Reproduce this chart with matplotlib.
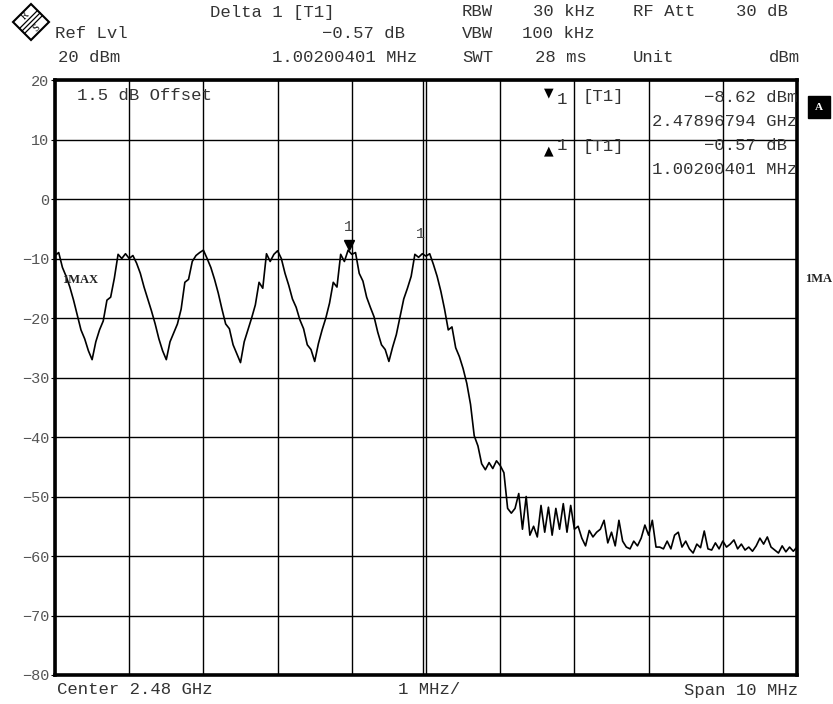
import numpy as np
import matplotlib
matplotlib.use("Agg")
import matplotlib.pyplot as plt
import matplotlib.transforms as mtransforms
from matplotlib.patches import Polygon

# Spectrum analyzer screen: center 2.48 GHz, span 10 MHz
center_ghz = 2.48
span_ghz = 0.010
ref_lvl = 20
db_per_div = 10
n_div_y = 10

# trace level (dBm), 201 points across the span
level_dbm = [
    -9.5, -9.0, -11.5, -13.0, -14.8, -17.0, -19.5, -22.0, -23.5, -25.5,
    -27.0, -24.0, -22.0, -20.5, -17.0, -16.5, -13.3, -9.3, -10.0, -9.2,
    -10.0, -9.5, -10.8, -12.5, -14.8, -16.8, -18.8, -21.0, -23.5, -25.5,
    -27.0, -24.0, -22.5, -21.0, -18.5, -14.0, -13.5, -10.5, -9.5, -9.0,
    -8.6, -10.0, -11.5, -13.5, -15.8, -18.5, -21.0, -21.8, -24.5, -26.0,
    -27.5, -24.0, -22.0, -20.0, -17.8, -14.0, -15.0, -9.2, -10.5, -9.3,
    -8.7, -10.0, -12.5, -14.5, -16.8, -18.2, -20.3, -21.8, -24.5, -25.3,
    -27.3, -24.3, -22.0, -20.0, -17.5, -14.0, -14.8, -9.3, -10.5, -8.6,
    -9.3, -9.0, -12.5, -13.8, -16.5, -18.2, -19.8, -22.4, -24.5, -25.3,
    -27.3, -24.9, -22.8, -19.8, -16.8, -15.0, -13.0, -9.3, -9.8, -9.2,
    -9.6, -9.2, -11.0, -13.0, -15.5, -18.5, -22.0, -21.5, -25.0, -26.5,
    -28.5, -31.0, -34.5, -39.8, -41.5, -44.5, -45.5, -44.3, -45.3, -44.0,
    -44.8, -46.0, -52.0, -52.8, -52.0, -49.5, -55.5, -50.0, -56.5, -55.0,
    -56.8, -51.5, -56.0, -51.8, -56.5, -52.0, -55.5, -51.2, -56.0, -51.5,
    -55.5, -55.0, -57.0, -58.3, -55.7, -56.8, -56.0, -55.5, -54.0, -57.8,
    -56.0, -58.3, -54.0, -57.5, -58.5, -58.8, -57.5, -58.3, -57.0, -54.8,
    -56.5, -54.0, -58.5, -58.5, -58.8, -57.5, -58.8, -56.5, -56.0, -58.5,
    -57.5, -58.8, -59.5, -58.0, -58.6, -55.8, -58.8, -59.0, -57.8, -58.8,
    -57.5, -58.5, -58.0, -57.3, -58.8, -58.0, -59.0, -58.5, -59.2, -58.3,
    -57.0, -58.0, -56.8, -58.5, -59.0, -59.5, -58.3, -59.3, -58.5, -59.2,
    -58.5,
]

marker_freq = 2.47896794
marker_level = -8.62
delta_freq = 0.00100200401
delta_level = -0.57

freq = np.linspace(center_ghz - span_ghz / 2, center_ghz + span_ghz / 2, len(level_dbm))

W, H = 833, 704
MONO = ["Liberation Mono", "DejaVu Sans Mono"]
TXT = "#333333"
FS = 12.4

fig = plt.figure(figsize=(W / 100, H / 100), dpi=100)
ax = fig.add_axes([55 / W, 1 - 675 / H, (797 - 55) / W, (675 - 80) / H])


def px(x, y):
    return x / W, 1 - y / H


def ftext(x, y, s, ha="left", **kw):
    kw.setdefault("color", TXT)
    kw.setdefault("fontsize", FS)
    kw.setdefault("family", MONO)
    fig.text(*px(x, y), s, ha=ha, va="center", **kw)


# trace
ax.plot(freq, level_dbm, color="black", lw=1.2, zorder=3)

# axes, grid
f0, f1 = center_ghz - span_ghz / 2, center_ghz + span_ghz / 2
ax.set_xlim(f0, f1)
ax.set_ylim(ref_lvl - db_per_div * n_div_y, ref_lvl)
ax.set_xticks(np.linspace(f0, f1, 11))
ax.set_yticks(np.arange(ref_lvl - db_per_div * n_div_y, ref_lvl + 1, db_per_div))
ax.set_yticklabels([f"{v:d}".replace("-", "\u2212") for v in
                    range(ref_lvl - db_per_div * n_div_y, ref_lvl + 1, db_per_div)])
ax.tick_params(axis="x", length=0, labelbottom=False)
ax.tick_params(axis="y", length=3, width=0.8, pad=1, labelsize=11, labelcolor="#555555")
for lbl in ax.get_yticklabels():
    lbl.set_family(MONO)
ax.grid(True, color="black", lw=1.0)
ax.axvline(center_ghz - 0.00004, color="black", lw=1.0)
for sp in ax.spines.values():
    sp.set_linewidth(2.6)
ax.set_facecolor("white")

# markers on the trace
up = mtransforms.offset_copy(ax.transData, fig=fig, x=0, y=4, units="points")
ax.plot([marker_freq], [marker_level], marker="v", color="black", ms=7, transform=up, zorder=4)
ax.annotate("1", (marker_freq, marker_level), xytext=(-1, 12), textcoords="offset points",
            ha="center", va="bottom", fontsize=11, color="#444444", family=MONO)
ax.annotate("1", (marker_freq + delta_freq, marker_level + delta_level), xytext=(-2, 9),
            textcoords="offset points", ha="center", va="bottom", fontsize=11,
            color="#444444", family=MONO)

ftext(77, 95, "1.5 dB Offset")
fig.text(*px(62, 280), "1MAX", ha="left", va="center", fontsize=9, fontweight="bold",
         color="#222222", family="Liberation Serif")

# header
ftext(210, 12, "Delta 1 [T1]")
ftext(462, 12, "RBW")
ftext(595, 12, "30 kHz", ha="right")
ftext(633, 12, "RF Att")
ftext(788, 12, "30 dB", ha="right")
ftext(55, 34, "Ref Lvl")
ftext(405, 34, "\u22120.57 dB", ha="right")
ftext(462, 34, "VBW")
ftext(595, 34, "100 kHz", ha="right")
ftext(58, 57, "20 dBm")
ftext(417, 57, "1.00200401 MHz", ha="right")
ftext(462, 57, "SWT")
ftext(587, 57, "28 ms", ha="right")
ftext(633, 57, "Unit")
ftext(800, 57, "dBm", ha="right")

# marker info box
ftext(544, 93, "\u25bc", fontsize=9, family=["DejaVu Sans"], color="black")
ftext(557, 99, "1")
ftext(582, 97, "[T1]")
ftext(797, 98, "\u22128.62 dBm", ha="right")
ftext(797, 121, "2.47896794 GHz", ha="right")
ftext(544, 151, "\u25b2", fontsize=9, family=["DejaVu Sans"], color="black")
ftext(557, 145, "1")
ftext(582, 146, "[T1]")
ftext(797, 146, "\u22120.57 dB ", ha="right")
ftext(797, 169, "1.00200401 MHz", ha="right")

# right side annotations
fig.text(*px(819, 107), "A", ha="center", va="center", fontsize=8, fontweight="bold",
         color="white", family="Liberation Serif",
         bbox=dict(boxstyle="square,pad=0.6", fc="black", ec="black"))
fig.text(*px(805, 279), "1MA", ha="left", va="center", fontsize=9, fontweight="bold",
         color="#222222", family="Liberation Serif")

# footer
ftext(57, 690, "Center 2.48 GHz")
ftext(398, 690, "1 MHz/")
ftext(798, 690, "Span 10 MHz", ha="right")

# R&S logo
cx, cy, r = 31, 22, 18
dia = [px(cx - r, cy), px(cx, cy - r), px(cx + r, cy), px(cx, cy + r)]
fig.add_artist(Polygon(dia, closed=True, fill=False, ec="black", lw=1.5,
                       transform=fig.transFigure))
for d in (-2.5, 0, 2.5):
    a = px(cx - r / 2 + d, cy + r / 2 + d)
    b = px(cx + r / 2 + d, cy - r / 2 + d)
    fig.add_artist(plt.Line2D([a[0], b[0]], [a[1], b[1]], color="black", lw=0.9,
                              transform=fig.transFigure))
fig.text(*px(cx - 6, cy - 6), "R", ha="center", va="center", fontsize=7.5, rotation=45,
         family="Liberation Serif")
fig.text(*px(cx + 6, cy + 6), "S", ha="center", va="center", fontsize=7.5, rotation=45,
         family="Liberation Serif")

fig.savefig("out.png", dpi=100, facecolor="white")
